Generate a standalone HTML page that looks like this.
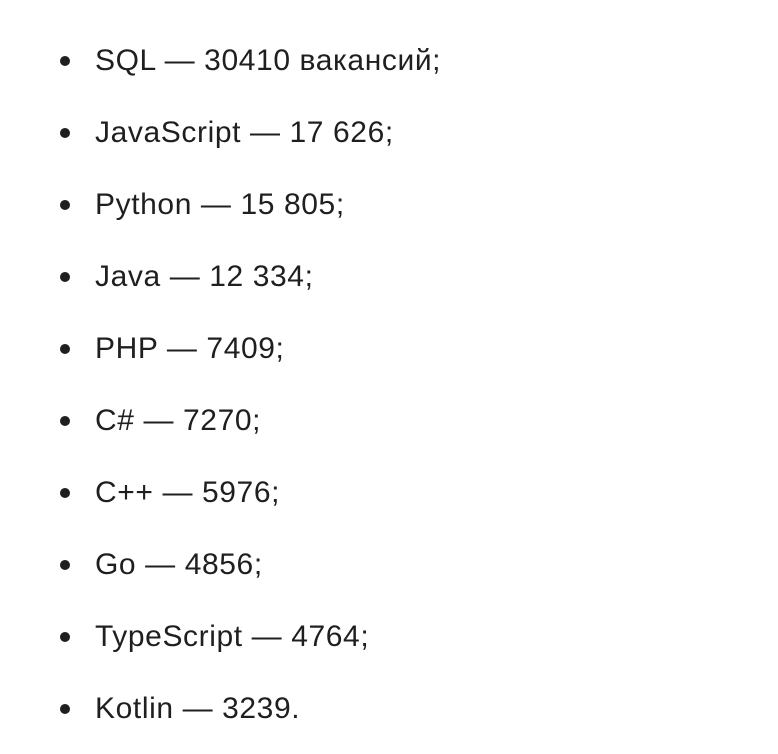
<!DOCTYPE html>
<html><head><meta charset="utf-8"><style>
html,body{margin:0;padding:0;background:#fff;width:778px;height:754px;overflow:hidden}
.l{position:absolute;left:95px;font-family:"Liberation Sans",sans-serif;font-size:30px;color:#1f1f1f;line-height:30px;white-space:nowrap;letter-spacing:0.6px}
.l::before{content:"";position:absolute;left:-35px;top:10px;width:10px;height:10px;border-radius:50%;background:#1f1f1f}
</style></head><body>
<div class="l" style="top:46px">SQL — 30410 вакансий;</div>
<div class="l" style="top:118px">JavaScript — 17 626;</div>
<div class="l" style="top:190px">Python — 15 805;</div>
<div class="l" style="top:262px">Java — 12 334;</div>
<div class="l" style="top:334px">PHP — 7409;</div>
<div class="l" style="top:406px">C# — 7270;</div>
<div class="l" style="top:478px">C++ — 5976;</div>
<div class="l" style="top:550px">Go — 4856;</div>
<div class="l" style="top:622px">TypeScript — 4764;</div>
<div class="l" style="top:694px">Kotlin — 3239.</div>
</body></html>
